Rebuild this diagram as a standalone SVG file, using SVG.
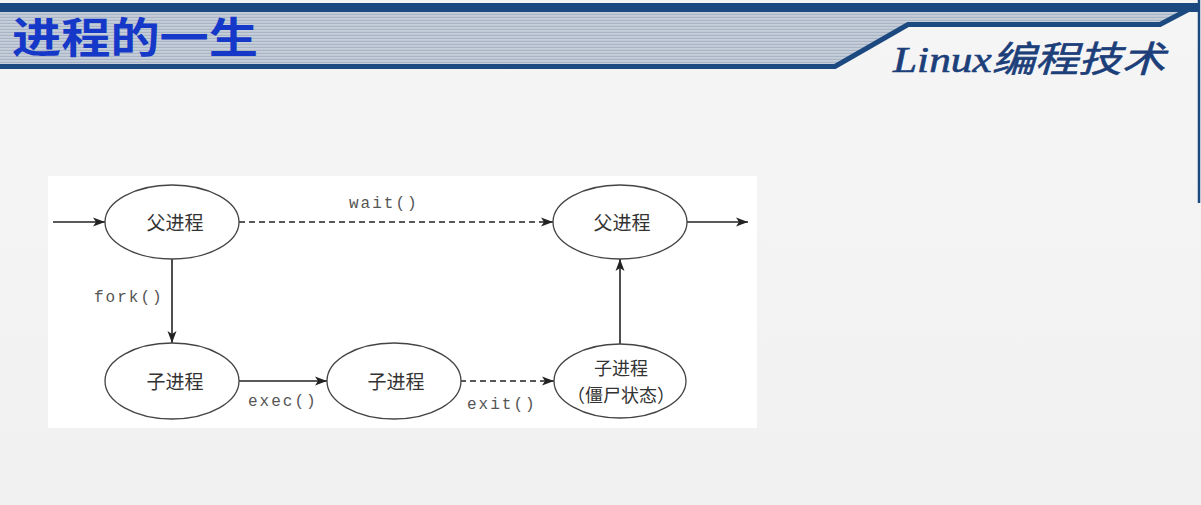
<svg xmlns="http://www.w3.org/2000/svg" width="1201" height="505" viewBox="0 0 1201 505">
  <defs>
    <linearGradient id="bg" x1="0" y1="0" x2="0" y2="1">
      <stop offset="0" stop-color="#f5f5f5"/>
      <stop offset="1" stop-color="#f1f1f1"/>
    </linearGradient>
    <pattern id="stripes" x="0" y="0" width="8" height="3" patternUnits="userSpaceOnUse">
      <rect width="8" height="3" fill="#c6ced9"/>
      <rect y="1.8" width="8" height="1.2" fill="#a8b5c5"/>
    </pattern>
    <marker id="arr" viewBox="0 0 12 10" refX="12" refY="5" markerWidth="12" markerHeight="10" markerUnits="userSpaceOnUse" orient="auto">
      <path d="M0,0.5 L12,5 L0,9.5 L3,5 Z" fill="#222"/>
    </marker>
    <style>
      .node ellipse { fill: #ffffff; stroke: #444; stroke-width: 1.3; }
      .node text { font-family: "Noto Sans CJK SC", "Noto Sans", sans-serif; font-size: 19px; fill: #333; text-anchor: middle; dominant-baseline: central; }
      .node text.sm { font-size: 18px; }
      .edge { stroke: #222; stroke-width: 1.6; fill: none; marker-end: url(#arr); }
      .dash { stroke-dasharray: 6 4; }
      .lbl { font-family: "Liberation Mono", "DejaVu Sans Mono", monospace; font-size: 16px; letter-spacing: 2px; fill: #555; }
    </style>
  </defs>

  <!-- page background -->
  <rect width="1201" height="505" fill="url(#bg)"/>

  <!-- header -->
  <g id="header">
    <polygon points="0,12 1188,12 1162,24 908,24 835,66 0,66" fill="url(#stripes)"/>
    <rect x="0" y="3" width="1198" height="9" fill="#1c4a80"/>
    <polyline points="0,66.5 835,66.5 908,24.5 1160,24.5 1197,5" fill="none" stroke="#1c4a80" stroke-width="5"/>
    <line x1="1199" y1="0" x2="1199" y2="203" stroke="#1c4a80" stroke-width="2.5"/>
    <text x="12" y="53" font-family="Noto Sans CJK SC, sans-serif" font-weight="bold" font-size="42" fill="#1538c8" textLength="246" lengthAdjust="spacingAndGlyphs">进程的一生</text>
    <text x="893" y="72" font-family="Liberation Serif, Noto Sans CJK SC, serif" font-style="italic" font-size="36" fill="#1c3f7a" stroke="#1c3f7a" stroke-width="0.6" textLength="272" lengthAdjust="spacingAndGlyphs">Linux编程技术</text>
  </g>

  <!-- diagram canvas -->
  <rect x="48" y="176" width="709" height="252" fill="#ffffff"/>

  <g id="connectors">
    <line class="edge" x1="53" y1="222" x2="105" y2="222"/>
    <line class="edge dash" x1="239" y1="222" x2="553" y2="222"/>
    <line class="edge" x1="172" y1="259" x2="172" y2="343"/>
    <line class="edge" x1="239" y1="381" x2="327" y2="381"/>
    <line class="edge dash" x1="460" y1="381" x2="554" y2="381"/>
    <line class="edge" x1="620" y1="344" x2="620" y2="259"/>
    <line class="edge" x1="686" y1="222" x2="748" y2="222"/>
    <text class="lbl" x="349" y="208">wait()</text>
    <text class="lbl" x="94" y="302">fork()</text>
    <text class="lbl" x="248" y="406">exec()</text>
    <text class="lbl" x="467" y="409">exit()</text>
  </g>

  <g id="parent1" class="node">
    <ellipse cx="172" cy="222" rx="67" ry="37"/>
    <text x="175" y="221">父进程</text>
  </g>
  <g id="child1" class="node">
    <ellipse cx="172" cy="381" rx="67" ry="38"/>
    <text x="175" y="380">子进程</text>
  </g>
  <g id="child2" class="node">
    <ellipse cx="394" cy="381" rx="67" ry="38"/>
    <text x="396" y="380">子进程</text>
  </g>
  <g id="parent2" class="node">
    <ellipse cx="620" cy="222" rx="67" ry="37"/>
    <text x="622" y="221">父进程</text>
  </g>
  <g id="zombie" class="node">
    <ellipse cx="620" cy="381" rx="66" ry="37"/>
    <text class="sm" x="621" y="367">子进程</text>
    <text class="sm" x="621" y="394">（僵尸状态）</text>
  </g>
</svg>
